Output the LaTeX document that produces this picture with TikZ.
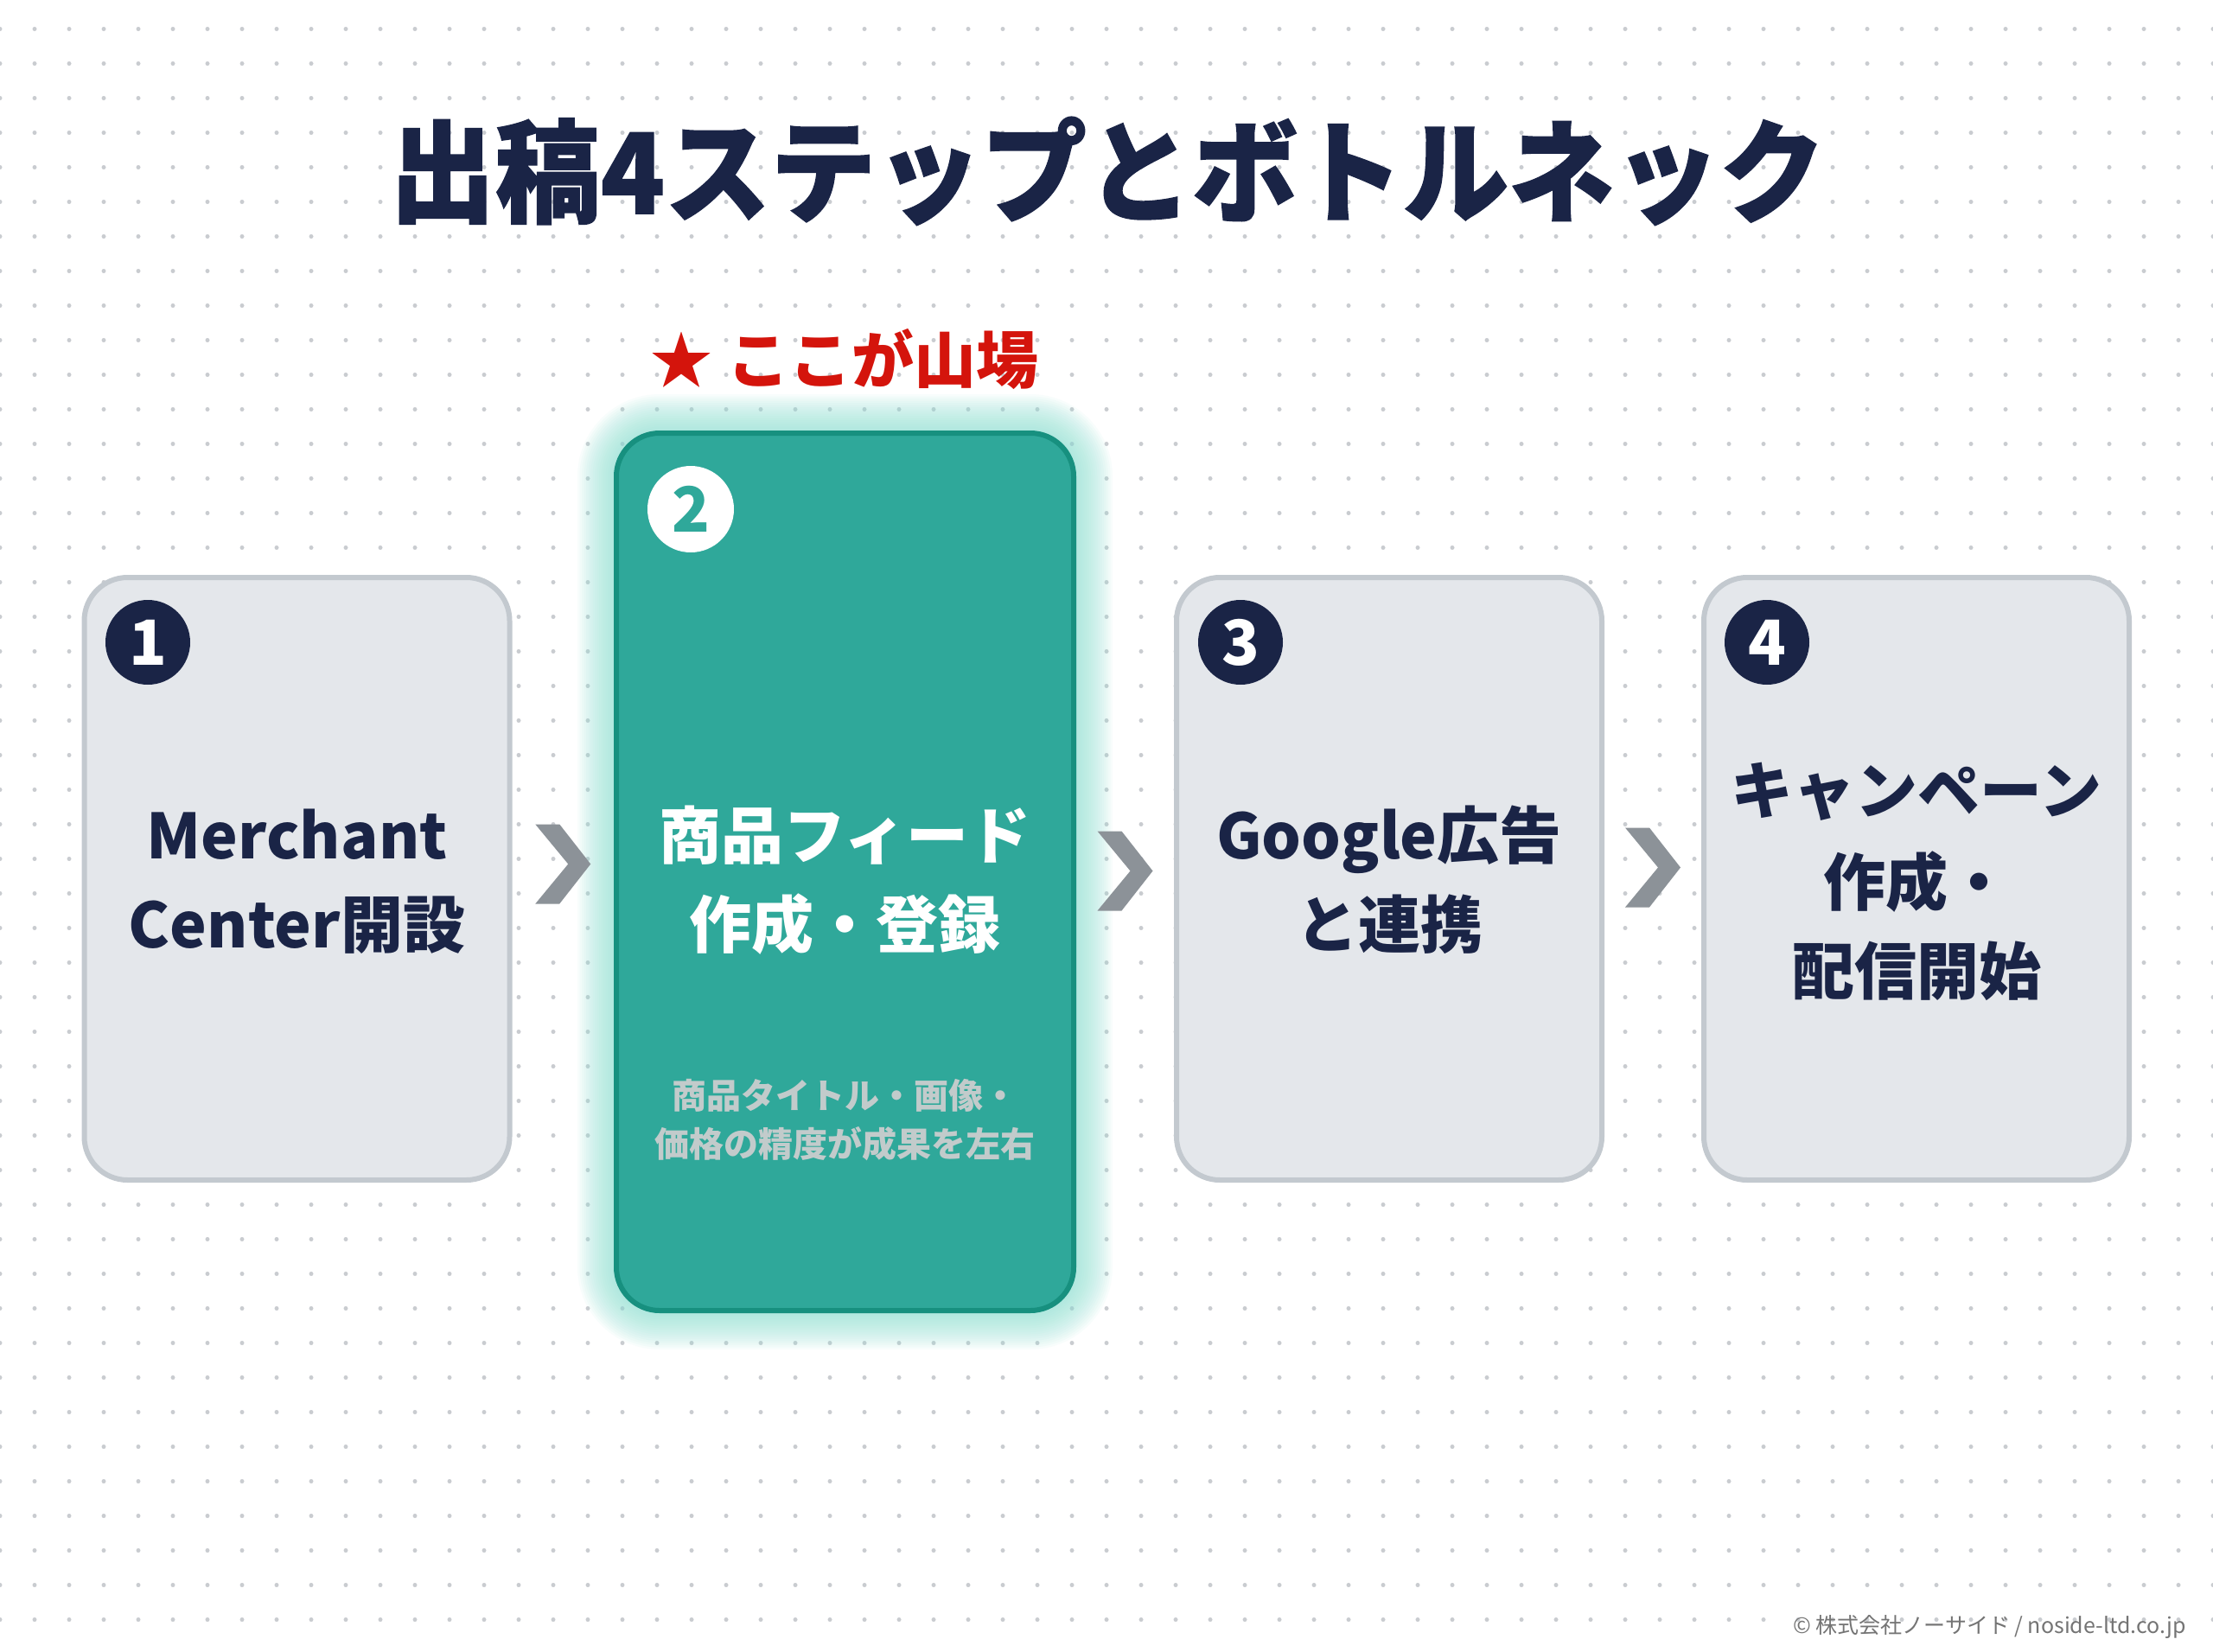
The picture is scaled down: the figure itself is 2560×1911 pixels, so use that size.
\documentclass[tikz,border=0pt]{standalone}
\usepackage{fontspec}
\setmainfont{Noto Sans CJK JP}
\newfontfamily\heavyfont{Noto Sans CJK JP}[BoldFeatures={FakeBold=1.2}]
\usetikzlibrary{calc}
\definecolor{navy}{HTML}{1A2446}
\definecolor{dotc}{HTML}{C9CCD0}
\definecolor{cardfill}{HTML}{E4E7EB}
\definecolor{cardline}{HTML}{C3C9CF}
\definecolor{tealfill}{HTML}{2FA89A}
\definecolor{tealline}{HTML}{17907F}
\definecolor{glowc}{HTML}{8FE2D4}
\definecolor{hotred}{HTML}{D4140C}
\definecolor{chevc}{HTML}{8C9298}
\definecolor{subc}{HTML}{C2CBCB}
\definecolor{footc}{HTML}{747474}
\tikzset{
  graycard/.style={draw=cardline, fill=cardfill, line width=3pt, rounded corners=25pt,
    minimum width=246pt, minimum height=348.5pt, inner sep=0},
  tealcard/.style={draw=tealline, fill=tealfill, line width=3pt, rounded corners=25pt,
    minimum width=264.5pt, minimum height=507.5pt, inner sep=0},
  numdark/.style={circle, fill=navy, text=white, minimum size=49pt, inner sep=0,
    font=\bfseries\fontsize{36}{36}\selectfont, text height=26pt, text depth=0pt},
  numlight/.style={circle, fill=white, text=tealfill, minimum size=50pt, inner sep=0,
    font=\bfseries\fontsize{36}{36}\selectfont, text height=26pt, text depth=0pt},
  lbl36/.style={inner sep=0, text height=31.7pt, text depth=4.3pt, font=\bfseries\fontsize{36}{36}\selectfont},
  cardtxt/.style={lbl36, text=navy},
  cardtxtw/.style={lbl36, text=white},
  subtxt/.style={inner sep=0, text height=17.6pt, text depth=2.4pt, text=subc, font=\bfseries\fontsize{20}{20}\selectfont},
  chevron/.style={fill=chevc, draw=none}
}
\begin{document}
\begin{tikzpicture}[x=0.5pt,y=-0.5pt]
\useasboundingbox (0,0) rectangle (2560,1911);
\fill[white] (0,0) rectangle (2560,1911);
% dot grid
\fill[dotc] \foreach \i in {0,...,64} { \foreach \j in {0,...,46} { ({\i*40},{33.5+\j*40}) circle (2.5) } };

% title
\node[inner sep=0, text height=53.7pt, text depth=7.3pt, text=navy, yscale=1.06, transform shape,
  font=\heavyfont\bfseries\fontsize{61}{61}\selectfont] (title) at (1281,198) {出稿4ステップとボトルネック};

% highlight label
\node[lbl36, text=hotred] (peak) at (977,416) {★ ここが山場};

% glow around card 2
\foreach \k in {1,...,18} {
  \fill[glowc, opacity=0.06, rounded corners={25pt+\k*1.25pt}]
    ({713-\k*2.5},{501-\k*2.5}) rectangle ({1242+\k*2.5},{1516+\k*2.5});
}

% cards
\node[graycard] (c1) at (343.5,1016.5) {};
\node[tealcard] (c2) at (977.5,1008.5) {};
\node[graycard] (c3) at (1607,1016.5) {};
\node[graycard] (c4) at (2217,1016.5) {};

% number badges
\node[numdark] (n1) at (171,743) {1};
\node[numlight] (n2) at (799,589) {2};
\node[numdark] (n3) at (1435,743) {3};
\node[numdark] (n4) at (2044,743) {4};

% card texts
\node[cardtxt] (t1a) at (343.5,966) {Merchant};
\node[cardtxt] (t1b) at (343.5,1069) {Center開設};
\node[cardtxtw] (t2a) at (977.5,966) {商品フィード};
\node[cardtxtw] (t2b) at (977.5,1069) {作成・登録};
\node[subtxt] (s2a) at (977.5,1267) {商品タイトル・画像・};
\node[subtxt] (s2b) at (977.5,1323) {価格の精度が成果を左右};
\node[cardtxt] (t3a) at (1607,966) {Google広告};
\node[cardtxt] (t3b) at (1607,1069) {と連携};
\node[cardtxt] (t4a) at (2217,914) {キャンペーン};
\node[cardtxt] (t4b) at (2217,1020) {作成・};
\node[cardtxt] (t4c) at (2217,1123) {配信開始};

% chevrons between cards
\coordinate (k1) at ($(c1.east)!0.5!(c2.west)+(0,-13)$);
\coordinate (k2) at ($(c2.east)!0.5!(c3.west)+(0,-5)$);
\coordinate (k3) at ($(c3.east)!0.5!(c4.west)+(0,-13)$);
\foreach \c in {k1,k2,k3} {
  \fill[chevron] ($(\c)+(-32,-46)$) -- ($(\c)+(-4,-46)$) -- ($(\c)+(32,0)$) -- ($(\c)+(-4,46)$) -- ($(\c)+(-32,46)$) -- ($(\c)+(6,0)$) -- cycle;
}

% footer
\node[anchor=east, inner sep=0, text=footc, font=\fontsize{12.5}{12.5}\selectfont] (foot) at (2529,1882) {© 株式会社ノーサイド / noside-ltd.co.jp};
\end{tikzpicture}
\end{document}
